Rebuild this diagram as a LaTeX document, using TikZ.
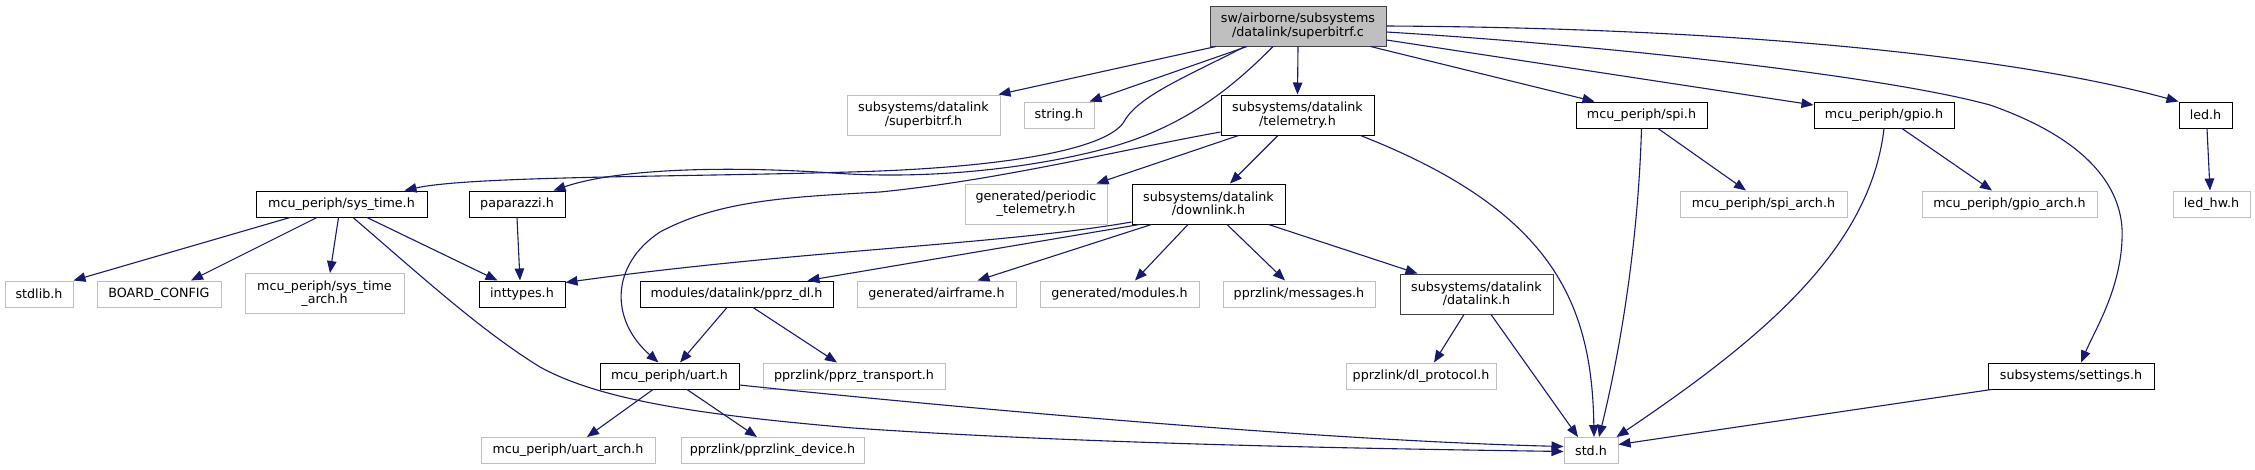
\documentclass[tikz,border=0pt]{standalone}
\usepackage{fontspec}
\setmainfont{DejaVu Sans}
\usetikzlibrary{arrows.meta,calc}
\newcommand\gvfont{\fontsize{12.7}{13.3}\selectfont}
\definecolor{edgeblue}{HTML}{191970}
\definecolor{rootfill}{HTML}{BFBFBF}
\definecolor{rootdraw}{HTML}{404040}
\definecolor{lightbox}{HTML}{BFBFBF}
\tikzset{
  nd/.style={draw=black, line width=1pt, fill=white, inner sep=0pt, align=center, font=\gvfont, text=black},
  gr/.style={nd, draw=lightbox},
  one/.style={minimum height=26pt},
  two/.style={minimum height=40pt},
  edge/.style={draw=edgeblue, line width=1.1pt, -{Triangle[length=12pt,width=9.5pt]}},
}
\begin{document}
\begin{tikzpicture}[x=1pt,y=-1pt]
\fill[white] (0,0) rectangle (2255,469);
\useasboundingbox (0,0) rectangle (2255,469);

% nodes
\node[nd, two, fill=rootfill, draw=rootdraw, minimum width=176pt] (root) at (1298,26) {sw/airborne/subsystems\\/datalink/superbitrf.c};
\node[gr, two, minimum width=153pt] (sbh) at (923.5,115) {subsystems/datalink\\/superbitrf.h};
\node[gr, one, minimum width=70pt] (strh) at (1059,115) {string.h};
\node[nd, two, minimum width=153pt] (tel) at (1297.5,115) {subsystems/datalink\\/telemetry.h};
\node[nd, one, minimum width=171pt] (systime) at (341.5,204) {mcu\_periph/sys\_time.h};
\node[nd, one, minimum width=96pt] (pap) at (517,204) {paparazzi.h};
\node[gr, two, minimum width=142pt] (per) at (1036,204) {generated/periodic\\\_telemetry.h};
\node[nd, two, minimum width=153pt] (down) at (1208.5,204) {subsystems/datalink\\/downlink.h};
\node[nd, one, minimum width=131pt] (spi) at (1641.5,115) {mcu\_periph/spi.h};
\node[nd, one, minimum width=140pt] (gpio) at (1884,115) {mcu\_periph/gpio.h};
\node[nd, one, minimum width=53pt] (led) at (2205.5,115) {led.h};
\node[gr, one, minimum width=167pt] (spiarch) at (1763.5,204) {mcu\_periph/spi\_arch.h};
\node[gr, one, minimum width=175pt] (gpioarch) at (2009.5,204) {mcu\_periph/gpio\_arch.h};
\node[gr, one, minimum width=77pt] (ledhw) at (2211.5,204) {led\_hw.h};
\node[gr, one, minimum width=68pt] (stdlib) at (39,294) {stdlib.h};
\node[gr, one, minimum width=124pt] (board) at (159,294) {BOARD\_CONFIG};
\node[gr, two, minimum width=159pt] (starch) at (324.5,293.5) {mcu\_periph/sys\_time\\\_arch.h};
\node[nd, one, minimum width=86pt] (inttypes) at (522,294) {inttypes.h};
\node[nd, one, minimum width=193pt] (pprzdl) at (736.5,294) {modules/datalink/pprz\_dl.h};
\node[gr, one, minimum width=159pt] (airframe) at (936.5,294) {generated/airframe.h};
\node[gr, one, minimum width=159pt] (modules) at (1119.5,294) {generated/modules.h};
\node[gr, one, minimum width=152pt] (messages) at (1299,294) {pprzlink/messages.h};
\node[nd, two, draw=rootdraw, minimum width=153pt] (datalink) at (1476.5,294) {subsystems/datalink\\/datalink.h};
\node[nd, one, minimum width=139pt] (uart) at (669.5,376) {mcu\_periph/uart.h};
\node[gr, one, minimum width=182pt] (transport) at (854,376) {pprzlink/pprz\_transport.h};
\node[gr, one, minimum width=150pt] (dlproto) at (1421,376) {pprzlink/dl\_protocol.h};
\node[nd, one, minimum width=166pt] (settings) at (2071,376) {subsystems/settings.h};
\node[gr, one, minimum width=174pt] (uartarch) at (568,450.5) {mcu\_periph/uart\_arch.h};
\node[gr, one, minimum width=183pt] (device) at (772.5,450.5) {pprzlink/pprzlink\_device.h};
\node[gr, one, minimum width=54pt] (std) at (1591,450.5) {std.h};

% edges from root
\draw[edge] ($(root.south)+(-82,0)$) -- ($(sbh.north east)+(-2,0)$);
\draw[edge] ($(root.south)+(-51,0)$) -- ($(strh.north east)+(-5,0)$);
\draw[edge] (root.south) -- (tel.north);
\draw[edge] ($(root.south)+(-53,0)$) .. controls (1190,75) and (1140,95) .. (1125,120)
  .. controls (1110,150) and (1000,168) .. (850,172)
  .. controls (680,177) and (470,176) .. ($(systime.north east)+(-23,0)$);
\draw[edge] ($(root.south)+(-25,0)$) .. controls (1230,90) and (1180,130) .. (1100,150)
  .. controls (1030,168) and (930,180) .. (833,173)
  .. controls (730,166) and (620,168) .. ($(pap.north east)+(-12,0)$);
\draw[edge] ($(root.south east)+(-16,0)$) -- ($(spi.north west)+(19,0)$);
\draw[edge] ($(root.east)+(0,14)$) -- ($(gpio.west)+(0,-10)$);
\draw[edge] ($(root.east)+(0,6)$) .. controls (1600,45) and (1880,75) .. (1990,105)
  .. controls (2090,140) and (2125,190) .. (2122,240)
  .. controls (2120,290) and (2095,330) .. ($(settings.north)+(10,0)$);
\draw[edge] (root.east) .. controls (1750,28) and (2020,58) .. (led.north west);

% telemetry
\draw[edge] ($(tel.south west)+(18,0)$) -- ($(per.north east)+(-11,0)$);
\draw[edge] ($(tel.south)+(-19.5,0)$) -- ($(down.north)+(21.5,0)$);
\draw[edge] ($(tel.south east)+(-14,0)$) .. controls (1550,210) and (1592,300) .. ($(std.north)+(3,0)$);
\draw[edge] ($(tel.west)+(0,17)$) .. controls (1120,150) and (1000,180) .. (880,192)
  .. controls (790,197) and (720,200) .. (660,232)
  .. controls (610,265) and (610,320) .. ($(uart.north)+(-11,0)$);

% downlink
\draw[edge] ($(down.west)+(0,18)$) .. controls (1000,245) and (800,250) .. ($(inttypes.north east)+(0,2)$);
\draw[edge] ($(down.south west)+(8,0)$) -- ($(pprzdl.north east)+(-26,0)$);
\draw[edge] ($(down.south west)+(20,0)$) -- ($(airframe.north east)+(-39,0)$);
\draw[edge] ($(down.south)+(-20.5,0)$) -- ($(modules.north)+(15.5,0)$);
\draw[edge] ($(down.south)+(18.5,0)$) -- ($(messages.north)+(-14,0)$);
\draw[edge] ($(down.south east)+(-17,0)$) -- ($(datalink.north west)+(18,0)$);

% sys_time
\draw[edge] ($(systime.south)+(-51.5,0)$) -- (stdlib.north east);
\draw[edge] ($(systime.south)+(-24.5,0)$) -- ($(board.north)+(32,0)$);
\draw[edge] ($(systime.south)+(-3,0)$) -- ($(starch.north)+(5.5,0)$);
\draw[edge] ($(systime.south)+(25.5,0)$) -- ($(inttypes.north west)+(19,0)$);
\draw[edge] ($(systime.south)+(11.5,0)$) .. controls (420,275) and (480,330) .. (540,367)
  .. controls (600,400) and (700,415) .. (853,428)
  .. controls (1100,445) and (1400,449) .. ($(std.west)+(0,1)$);

% paparazzi
\draw[edge] (pap.south) -- ($(inttypes.north)+(-2,0)$);

% pprz_dl
\draw[edge] ($(pprzdl.south)+(-9.5,0)$) -- ($(uart.north)+(10.5,0)$);
\draw[edge] ($(pprzdl.south)+(16.5,0)$) -- ($(transport.north)+(-17,0)$);

% uart
\draw[edge] ($(uart.south)+(-16.5,0)$) -- ($(uartarch.north)+(19,0)$);
\draw[edge] ($(uart.south)+(17.5,0)$) -- ($(device.north)+(-15.5,0)$);
\draw[edge] ($(uart.east)+(0,9)$) .. controls (900,402) and (1300,440) .. ($(std.west)+(0,-4)$);

% datalink
\draw[edge] ($(datalink.south)+(-12.5,0)$) -- ($(dlproto.north)+(13,0)$);
\draw[edge] ($(datalink.south)+(14.5,0)$) -- ($(std.north)+(-13,0)$);

% spi, gpio, led, settings
\draw[edge] ($(spi.south)+(16.5,0)$) -- ($(spiarch.north)+(-17.5,0)$);
\draw[edge] (spi.south) .. controls (1638,250) and (1618,360) .. ($(std.north)+(8,0)$);
\draw[edge] ($(gpio.south)+(18,0)$) -- ($(gpioarch.north)+(-17.5,0)$);
\draw[edge] (gpio.south) .. controls (1870,250) and (1760,340) .. ($(std.north east)+(-2,0)$);
\draw[edge] ($(led.south)+(1.5,0)$) -- ($(ledhw.north)+(-1.5,0)$);
\draw[edge] ($(settings.south west)+(4,0)$) -- ($(std.east)+(0,-6)$);
\end{tikzpicture}
\end{document}
